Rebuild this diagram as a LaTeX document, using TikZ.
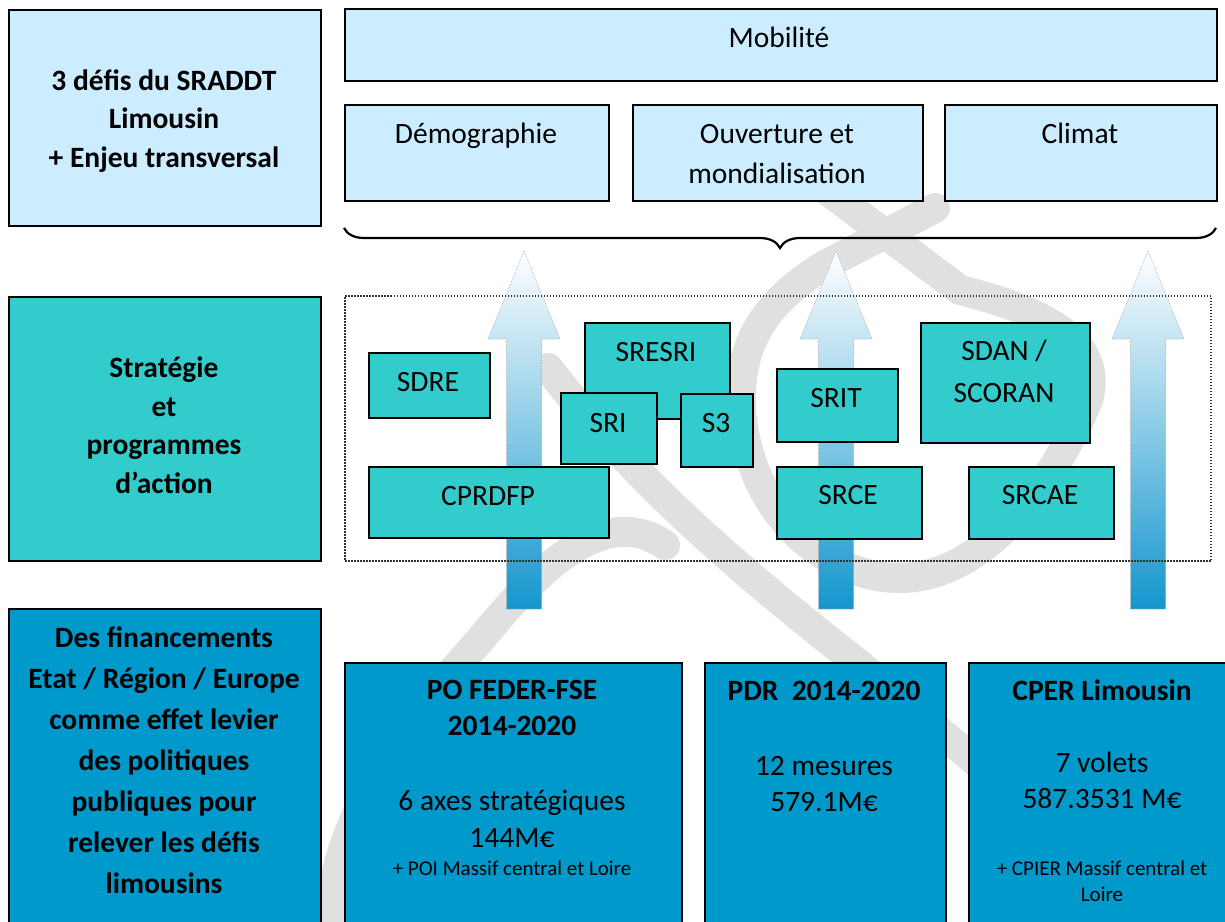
\documentclass[tikz,border=0pt]{standalone}
\usepackage{fontspec}
\setmainfont{Carlito}
\usetikzlibrary{positioning,decorations.pathreplacing}

\definecolor{defiblue}{RGB}{204,236,255}
\definecolor{stratteal}{RGB}{51,204,204}
\definecolor{finblue}{RGB}{0,153,204}
\definecolor{flecheblue}{RGB}{20,150,205}
\definecolor{flechemid}{RGB}{182,212,235}
\definecolor{filigrane}{RGB}{224,224,224}

\newcommand{\grandtxt}{\fontsize{29.5}{38.5}\selectfont}
\newcommand{\petittxt}{\fontsize{21}{26}\selectfont}

\tikzset{
  boite/.style={draw=black, line width=1.5pt, inner sep=0pt, anchor=north west},
  defi/.style={boite, fill=defiblue},
  strat/.style={boite, fill=stratteal},
  fin/.style={boite, fill=finblue},
  txt/.style={inner sep=0pt, align=center, anchor=base, font=\grandtxt},
  txtgras/.style={txt, font=\grandtxt\bfseries},
  fleche/.style={draw=gray!70, densely dotted, line width=0.6pt, top color=white, middle color=flechemid, bottom color=flecheblue},
  filig/.style={draw=filigrane, line width=30pt, line cap=round}
}

\begin{document}
\begin{tikzpicture}[x=1pt,y=1pt,yscale=-1,xscale=1]
\useasboundingbox (0,0) rectangle (1225,921);
\clip (0,0) rectangle (1225,921);

%Shape: watermark
\draw[filig] (935,208) -- (825,265) .. controls (760,305) and (735,350) .. (742,420) .. controls (755,520) and (830,578) .. (900,578) .. controls (990,578) and (1060,470) .. (1088,400) .. controls (1105,340) and (1040,310) .. (960,290) -- (800,170);
\draw[filig] (548,368) .. controls (620,460) and (700,540) .. (860,665) -- (1010,790);
\draw[filig] (330,940) .. controls (325,830) and (400,730) .. (480,640) .. controls (530,580) and (600,500) .. (665,545);

% 3 defis
\node[defi, minimum width=312, minimum height=216] (defis) at (8,9) {};
\node[txtgras] (defistxt) at (164,167) {3 défis du SRADDT\\Limousin\\+ Enjeu transversal};

\node[defi, minimum width=872, minimum height=72] (mobilite) at (344,8) {};
\node[txt] (mobilitetxt) at (779,47) {Mobilité};

\node[defi, minimum width=264, minimum height=96] (demo) at (344,104) {};
\node[txt] (demotxt) at (476,143) {Démographie};

\node[defi, minimum width=290, minimum height=96] (ouverture) at (632,104) {};
\node[txt, font=\fontsize{29.5}{40}\selectfont] (ouverturetxt) at (777,183) {Ouverture et\\mondialisation};

\node[defi, minimum width=272, minimum height=96] (climat) at (944,104) {};
\node[txt] (climattxt) at (1080,143) {Climat};

%Shape: brace
\draw[line width=2.2pt, decorate, decoration={brace, mirror, amplitude=20pt}] (344,228) -- (1216,228);

% Strategie
\node[strat, minimum width=312, minimum height=264] (strategie) at (8,296) {};
\node[txtgras] (strategietxt) at (164,493) {Stratégie\\et\\programmes\\d’action};

%Shape: arrows
\foreach \x in {524,836,1148}
  \draw[fleche] (\x-17.5,609) -- (\x-17.5,339) -- (\x-36,339) -- (\x,251) -- (\x+36,339) -- (\x+17.5,339) -- (\x+17.5,609) -- cycle;

\node[draw=black!80, dash pattern=on 1.5pt off 1.5pt, line width=2pt, inner sep=0pt, anchor=north west, minimum width=866, minimum height=265] (cadre) at (344,295) {};

\node[strat, minimum width=121, minimum height=65] (sdre) at (368,352) {};
\node[txt] (sdretxt) at (428,391) {SDRE};

\node[strat, minimum width=240, minimum height=71] (cprdfp) at (368,466) {};
\node[txt] (cprdfptxt) at (488,505) {CPRDFP};

\node[strat, minimum width=145, minimum height=96] (sresri) at (584,322) {};
\node[txt] (sresritxt) at (656,361) {SRESRI};

\node[strat, minimum width=96, minimum height=71] (sri) at (560,392) {};
\node[txt] (sritxt) at (608,432) {SRI};

\node[strat, minimum width=72, minimum height=73] (s3) at (680,393) {};
\node[txt] (s3txt) at (716,432) {S3};

\node[strat, minimum width=121, minimum height=73] (srit) at (776,368) {};
\node[txt] (srittxt) at (836,407) {SRIT};

\node[strat, minimum width=169, minimum height=120] (sdan) at (920,322) {};
\node[txt, font=\fontsize{29.5}{42}\selectfont] (sdantxt) at (1004,402) {SDAN /\\SCORAN};

\node[strat, minimum width=145, minimum height=72] (srce) at (776,466) {};
\node[txt] (srcetxt) at (848,504) {SRCE};

\node[strat, minimum width=145, minimum height=72] (srcae) at (968,466) {};
\node[txt] (srcaetxt) at (1040,504) {SRCAE};

% Financements
\node[fin, minimum width=312, minimum height=330] (financements) at (8,608) {};
\node[txtgras, font=\fontsize{29.5}{41}\selectfont\bfseries] (financementstxt) at (164,893) {Des financements\\Etat / Région / Europe\\comme effet levier\\des politiques\\publiques pour\\relever les défis\\limousins};

\node[fin, minimum width=337, minimum height=280] (pofeder) at (344,662) {};
\node[txtgras, font=\fontsize{29.5}{36}\selectfont\bfseries] (pofedertitre) at (512,735) {PO FEDER-FSE\\2014-2020};
\node[txt, font=\fontsize{29.5}{37}\selectfont] (pofedertxt) at (512,847) {6 axes stratégiques\\144M€};
\node[txt, font=\petittxt] (poitxt) at (512,875) {+ POI Massif central et Loire};

\node[fin, minimum width=241, minimum height=280] (pdr) at (704,662) {};
\node[txtgras] (pdrtitre) at (824,700) {PDR\ \ 2014-2020};
\node[txt, font=\fontsize{29.5}{36}\selectfont] (pdrtxt) at (824,811) {12 mesures\\579.1M€};

\node[fin, minimum width=268, minimum height=280] (cper) at (968,662) {};
\node[txtgras] (cpertitre) at (1102,700) {CPER Limousin};
\node[txt, font=\fontsize{29.5}{36}\selectfont] (cpertxt) at (1102,808) {7 volets\\587.3531 M€};
\node[txt, font=\petittxt] (cpiertxt) at (1102,901) {+ CPIER Massif central et\\Loire};

\end{tikzpicture}
\end{document}
